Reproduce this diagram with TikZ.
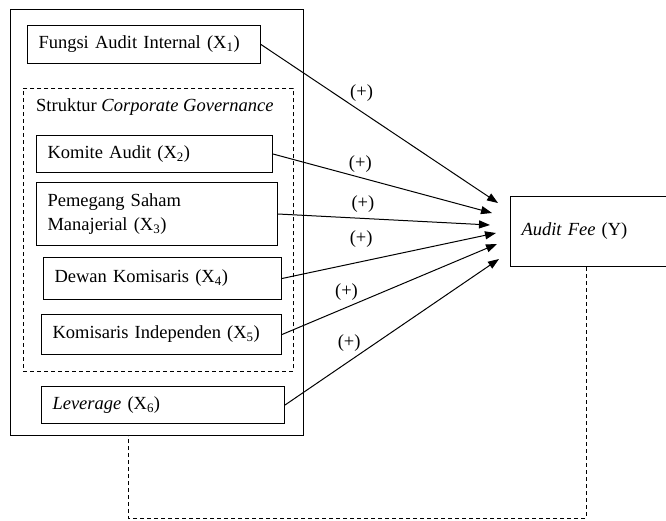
\documentclass[tikz,border=0pt]{standalone}
\usepackage{fontspec}
\setmainfont{Liberation Serif}
\usetikzlibrary{arrows.meta, positioning}

\begin{document}
\begin{tikzpicture}[
    x=1pt, y=-1pt,
    font=\fontsize{18.5}{24}\selectfont,
    frame/.style={draw, line width=1pt, anchor=north west, inner sep=0pt},
    group/.style={draw, dashed, dash pattern=on 4pt off 3pt, line width=0.9pt, anchor=north west, inner sep=0pt},
    varbox/.style={draw, line width=1pt, anchor=north west, align=left, inner xsep=11pt, inner ysep=0pt},
    link/.style={-{Triangle[length=11pt, width=8pt]}, line width=1pt},
    sign/.style={inner sep=1pt},
    feedback/.style={dashed, dash pattern=on 4pt off 3pt, line width=0.9pt}
]
    \path[use as bounding box, clip] (0,0) rectangle (666,520);

    % Independent variables frame
    \node[frame, minimum width=293pt, minimum height=426pt] (outer) at (10,9) {};
    \node[group, minimum width=270pt, minimum height=283pt] (cg) at (23,88) {};
    \node[anchor=west, inner sep=0pt] (cglabel) at (36,107) {Struktur \textit{Corporate Governance}};

    % Variables
    \node[varbox, text width=211pt, minimum height=38pt] (x1) at (27,25) {Fungsi Audit Internal (X\textsubscript{1})};
    \node[varbox, text width=214pt, minimum height=37pt] (x2) at (36,135) {Komite Audit (X\textsubscript{2})};
    \node[varbox, text width=219pt, minimum height=63pt] (x3) at (36,182) {Pemegang Saham\\Manajerial (X\textsubscript{3})};
    \node[varbox, text width=216pt, minimum height=42pt] (x4) at (43,257) {Dewan Komisaris (X\textsubscript{4})};
    \node[varbox, text width=218pt, minimum height=40pt] (x5) at (41,314) {Komisaris Independen (X\textsubscript{5})};
    \node[varbox, text width=221pt, minimum height=37pt] (x6) at (41,386) {\textit{Leverage} (X\textsubscript{6})};

    % Dependent variable (runs past the right edge)
    \node[varbox, text width=200pt, minimum height=70pt] (fee) at (510,196) {\textit{Audit Fee} (Y)};

    % Arrow ends in front of Audit Fee
    \coordinate (t1) at (498,203);
    \coordinate (t2) at (492,213);
    \coordinate (t3) at (490,225);
    \coordinate (t4) at (496,233);
    \coordinate (t5) at (497,244);
    \coordinate (t6) at (499,259);

    % Hypotheses
    \draw[link] (x1.east) -- node[sign, pos=0.37, anchor=south west] {(+)} (t1);
    \draw[link] (x2.east) -- node[sign, pos=0.34, anchor=south west] {(+)} (t2);
    \draw[link] (x3.east) -- node[sign, pos=0.34, anchor=south west, yshift=4pt] {(+)} (t3);
    \draw[link] (x4.east) -- node[sign, pos=0.43, anchor=south east, yshift=10pt] {(+)} (t4);
    \draw[link] (x5.east) -- node[sign, pos=0.36, anchor=south east] {(+)} (t5);
    \draw[link] (x6.east) -- node[sign, pos=0.36, anchor=south east] {(+)} (t6);

    % Dashed return line
    \coordinate (fb) at ([xshift=76pt]fee.south west);
    \coordinate (fb_end) at ([xshift=118pt]outer.south west);
    \coordinate (low) at (0,518);
    \draw[feedback] (fb) -- (fb |- low) -- (fb_end |- low) -- (fb_end);
\end{tikzpicture}
\end{document}
